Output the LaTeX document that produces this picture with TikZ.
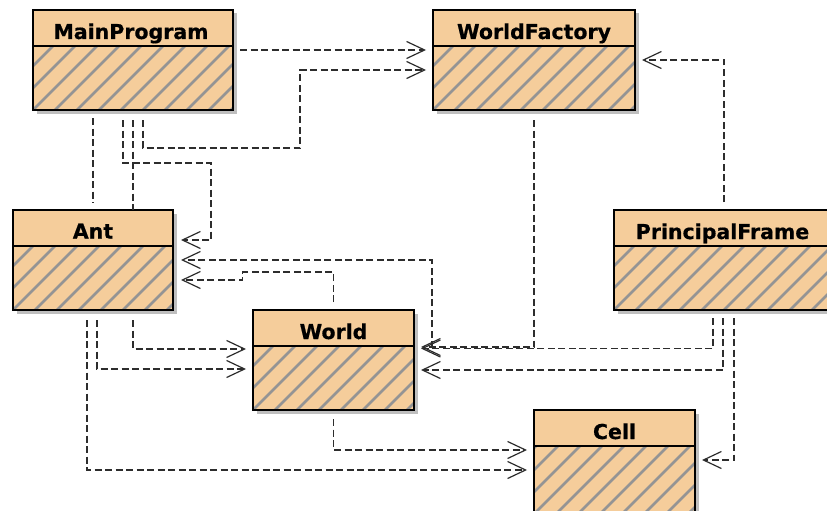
\documentclass[tikz,border=0pt]{standalone}
\usepackage{fontspec}
\setmainfont{DejaVu Sans}
\newfontfamily\classfont{DejaVu Sans Bold}[FakeBold=0.6]
\usetikzlibrary{arrows.meta,shadows,calc}
\definecolor{peach}{RGB}{245,205,155}
\definecolor{hatchgray}{RGB}{148,148,148}
\definecolor{linegray}{RGB}{45,45,45}

\tikzset{
  classbox/.style={draw=black, line width=1.4pt, fill=peach, anchor=north west,
    inner sep=0pt, outer sep=0pt, minimum height=100pt, minimum width=#1,
    drop shadow={shadow xshift=3.5pt, shadow yshift=-3.5pt, opacity=0.25, fill=black},
    path picture={
      \begin{scope}
        \clip ([yshift=-36pt]path picture bounding box.north west)
          rectangle (path picture bounding box.south east);
        \foreach \k in {-110,-88,...,240}
          \draw[hatchgray, line width=2.5pt]
            ([xshift=\k pt]path picture bounding box.south west) -- ++(110pt,110pt);
      \end{scope}
      \draw[black, line width=1.3pt]
        ([yshift=-36pt]path picture bounding box.north west) --
        ([yshift=-36pt]path picture bounding box.north east);
    }},
  classname/.style={anchor=base, inner sep=0pt,
    font=\fontsize{20.5}{24}\classfont},
  assoc/.style={draw=linegray, line width=1.2pt, dash pattern=on 7pt off 3.5pt},
  dep/.style={assoc, -{Straight Barb[length=18pt, width=17pt]}},
}

\begin{document}
\begin{tikzpicture}[x=1pt, y=-1pt]
  \useasboundingbox (0,0) rectangle (827,511);
  \clip (0,0) rectangle (827,511);
  \fill[white] (0,0) rectangle (827,511);

  % class boxes
  \node[classbox=200pt] (mp)    at (33,10)   {};
  \node[classbox=202pt] (wf)    at (433,10)  {};
  \node[classbox=160pt] (ant)   at (13,210)  {};
  \node[classbox=217pt] (pf)    at (614,210) {};
  \node[classbox=161pt] (world) at (253,310) {};
  \node[classbox=161pt, minimum height=104pt] (cell) at (534,410) {};

  % class names
  \node[classname] (mpT)    at ($(mp.north)+(-2,29)$)     {MainProgram};
  \node[classname] (wfT)    at ($(wf.north)+(0,29)$)      {WorldFactory};
  \node[classname] (antT)   at ($(ant.north)+(0,28.5)$)   {Ant};
  \node[classname] (pfT)    at ($(pf.north)+(0,29)$)      {PrincipalFrame};
  \node[classname] (worldT) at ($(world.north)+(0,29)$)   {World};
  \node[classname] (cellT)  at ($(cell.north)+(0,29)$)    {Cell};

  % MainProgram
  \draw[dep] ($(mp.north east)+(7,40)$) -- ($(wf.north west)+(-7,40)$);
  \draw[dep] ($(mp.south west)+(110,10)$) -- ++(0,28) -- ++(157,0)
    |- ($(wf.north west)+(-7,60)$);
  \draw[dep] ($(mp.south west)+(90,10)$) -- ++(0,43)
    -| ($(ant.north east)+(38,30)$) -- ($(ant.north east)+(8,30)$);
  \draw[assoc] ($(mp.south west)+(100,10)$) -- ($(ant.north west)+(120,0)$);
  \draw[assoc] ($(mp.south west)+(60,8)$) -- ($(ant.north)+(0,-7)$);

  % links into Ant
  \draw[dep] ($(world.north east)+(18,38)$) |- ($(ant.north east)+(8,50)$);
  \draw[dep] ($(world.north)+(0,-8)$) -- ++(0,-30) -- ++(-91,0) -- ++(0,8)
    -- ($(ant.north east)+(8,70)$);

  % links into World
  \draw[dep] ($(wf.south)+(0,10)$) |- ($(world.north east)+(7,37)$);
  \draw[dep] ($(pf.south west)+(99,8)$) |- ($(world.north east)+(7,38.5)$);
  \draw[dep] ($(pf.south west)+(109,8)$) |- ($(world.north east)+(7,60)$);
  \draw[dep] ($(ant.south west)+(120,10)$) |- ($(world.north west)+(-7,39)$);
  \draw[dep] ($(ant.south west)+(84,10)$) |- ($(world.north west)+(-7,59)$);

  % PrincipalFrame to WorldFactory and Cell
  \draw[dep] ($(pf.north west)+(110,-8)$) |- ($(wf.north east)+(7,50)$);
  \draw[dep] ($(pf.south west)+(120,8)$) |- ($(cell.north east)+(7,50)$);

  % links into Cell
  \draw[dep] ($(ant.south west)+(74,10)$) |- ($(cell.north west)+(-7,60)$);
  \draw[dep] ($(world.south)+(0,9)$) |- ($(cell.north west)+(-7,40)$);
\end{tikzpicture}
\end{document}
